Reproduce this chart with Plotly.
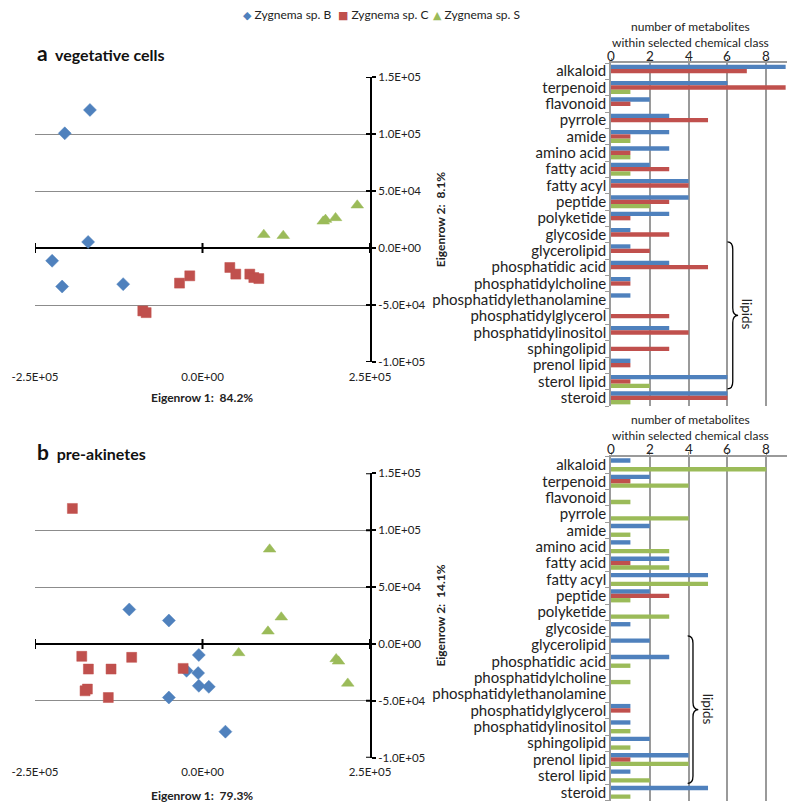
import plotly.graph_objects as go

# ---- data -------------------------------------------------------------
species = ["Zygnema sp. B", "Zygnema sp. C", "Zygnema sp. S"]
colors = ["#4F81BD", "#C0504D", "#9BBB59"]
symbols = ["diamond", "square", "triangle-up"]
legend_glyphs = ["◆", "■", "▲"]

# panel a: vegetative cells (PCA scores)
a_b_x = [-168000, -205600, -170700, -224400, -209500, -118400]
a_b_y = [121100, 100600, 5300, -11200, -33800, -31700]
a_c_x = [-34300, -19000, -89100, -84100, 40800, 49700, 70600, 76600, 84100]
a_c_y = [-30800, -24400, -55200, -56700, -17100, -22900, -22900, -25900, -26800]
a_s_x = [91500, 120500, 180200, 183600, 198600, 231000]
a_s_y = [11700, 10800, 23400, 24900, 26400, 37500]

# panel b: pre-akinetes (PCA scores)
b_b_x = [-109300, -50200, -5500, -23800, -6500, -5500, 9400, -50200, 34200]
b_b_y = [30300, 20600, -9700, -23600, -25600, -36800, -37700, -47100, -77100]
b_c_x = [-194200, -180200, -105700, -170300, -136500, -28900, -175300, -171800, -140600]
b_c_y = [119100, -10900, -11800, -22100, -22100, -21500, -41200, -39700, -47100]
b_s_x = [100200, 117600, 97700, 54000, 199500, 203000, 216800]
b_s_y = [83200, 23500, 11100, -7900, -13200, -15300, -34700]

classes = ["alkaloid", "terpenoid", "flavonoid", "pyrrole", "amide", "amino acid",
           "fatty acid", "fatty acyl", "peptide", "polyketide", "glycoside",
           "glycerolipid", "phosphatidic acid", "phosphatidylcholine",
           "phosphatidylethanolamine", "phosphatidylglycerol", "phosphatidylinositol",
           "sphingolipid", "prenol lipid", "sterol lipid", "steroid"]

a_cnt_b = [9, 6, 2, 3, 3, 3, 2, 4, 4, 3, 1, 1, 3, 1, 1, 0, 3, 0, 1, 6, 6]
a_cnt_c = [7, 9, 1, 5, 1, 1, 3, 4, 3, 1, 3, 2, 5, 1, 0, 3, 4, 3, 1, 1, 6]
a_cnt_s = [0, 1, 0, 0, 1, 1, 1, 0, 2, 0, 0, 0, 0, 0, 0, 0, 0, 0, 0, 2, 1]

b_cnt_b = [1, 2, 0, 0, 2, 1, 3, 5, 2, 0, 1, 2, 3, 0, 0, 1, 1, 2, 4, 1, 5]
b_cnt_c = [0, 1, 0, 0, 0, 0, 1, 0, 3, 0, 0, 0, 0, 0, 0, 1, 0, 0, 1, 0, 0]
b_cnt_s = [8, 4, 1, 4, 1, 3, 3, 5, 1, 3, 0, 0, 1, 1, 0, 0, 1, 1, 4, 2, 1]

score_ticks = [-250000, 0, 250000]
score_yticks = [-100000, -50000, 0, 50000, 100000, 150000]
count_ticks = [0, 2, 4, 6, 8]

FONT = "Lato"
# the page body has an 8px margin, so the figure is drawn 8px in from the corner
PAD = 8
W, H = 800 - 2 * PAD, 812 - 2 * PAD


def px_x(p):
    return (p - PAD) / W


def px_y(p):
    return 1 - (p - PAD) / H


fig = go.Figure()

# ---- scatter traces ---------------------------------------------------
scatter_sets = [
    ("x", "y", [(a_b_x, a_b_y), (a_c_x, a_c_y), (a_s_x, a_s_y)]),
    ("x3", "y3", [(b_b_x, b_b_y), (b_c_x, b_c_y), (b_s_x, b_s_y)]),
]
sizes = [10, 10, 11]
for xa, ya, sets in scatter_sets:
    for i, (xs, ys) in enumerate(sets):
        fig.add_trace(go.Scatter(
            x=xs, y=ys, mode="markers", name=species[i], showlegend=False,
            xaxis=xa, yaxis=ya,
            marker=dict(symbol=symbols[i], size=sizes[i], color=colors[i],
                        line=dict(width=0.5, color=colors[i])),
        ))

# ---- bar traces -------------------------------------------------------
for xa, ya, counts in [("x2", "y2", [a_cnt_b, a_cnt_c, a_cnt_s]),
                       ("x4", "y4", [b_cnt_b, b_cnt_c, b_cnt_s])]:
    for i, vals in enumerate(counts):
        fig.add_trace(go.Bar(
            x=vals, y=classes, orientation="h", name=species[i], showlegend=False,
            xaxis=xa, yaxis=ya, marker=dict(color=colors[i], line=dict(width=0)),
        ))

# ---- axes -------------------------------------------------------------
sc_xdom = [px_x(35), px_x(370)]
bar_xdom = [px_x(611), px_x(787)]


def score_axes(n_x, n_y, ydom, ytitle):
    fig.layout[f"xaxis{n_x}"] = dict(
        domain=sc_xdom, anchor=f"y{n_y}" if n_y else "y", automargin=False,
        range=[-250000, 250000], tickvals=score_ticks,
        ticktext=[f"{v:.1E}" for v in score_ticks],
        showgrid=False, zeroline=False, showline=False, ticks="",
        ticklabelstandoff=6,
        tickfont=dict(size=11.5, family=FONT, color="#222"),
    )
    fig.layout[f"yaxis{n_y}"] = dict(
        domain=ydom, anchor=f"x{n_x}" if n_x else "x", side="right", automargin=False,
        range=[-100000, 150000], tickvals=score_yticks,
        ticktext=[f"{v:.1E}" for v in score_yticks],
        showgrid=True, gridcolor="#8c8c8c", gridwidth=1.2,
        zeroline=True, zerolinecolor="black", zerolinewidth=2,
        showline=True, linecolor="black", linewidth=2, mirror=False,
        ticks="outside", ticklen=4, tickwidth=2, tickcolor="black",
        tickfont=dict(size=11.5, family=FONT, color="#222"),
        title=dict(text=f"<b>{ytitle}</b>", font=dict(size=12, family=FONT, color="#222"),
                   standoff=12),
    )


score_axes("", "", [px_y(362), px_y(77)], "Eigenrow 2:  8.1%")
score_axes("3", "3", [px_y(757.7), px_y(473.3)], "Eigenrow 2:  14.1%")


def bar_axes(n, ydom):
    fig.layout[f"xaxis{n}"] = dict(
        domain=bar_xdom, anchor=f"y{n}", side="top", range=[0, 9.07],
        tickmode="array", tickvals=count_ticks, automargin=False, showticklabels=False,
        showgrid=True, gridcolor="#9a9a9a", gridwidth=1.5, zeroline=False,
        showline=True, linecolor="#9a9a9a", linewidth=1.5,
        ticks="outside", ticklen=3, tickcolor="#9a9a9a",
    )
    fig.layout[f"yaxis{n}"] = dict(
        domain=ydom, anchor=f"x{n}", autorange="reversed", type="category",
        tickmode="array", tickvals=classes, ticktext=classes, automargin=False,
        showgrid=False, zeroline=False, showline=True, linecolor="#9a9a9a", linewidth=1.5,
        ticks="outside", ticklen=4, tickcolor="#9a9a9a", tickson="boundaries",
        tickfont=dict(size=15, family=FONT, color="#222"),
    )


bar_axes(2, [px_y(406), px_y(63)])
bar_axes(4, [px_y(800.5), px_y(456.7)])

# ---- tick marks crossing the score axes -------------------------------
shapes = []
for xr, yr in [("x", "y"), ("x3", "y3")]:
    for v in score_ticks:
        shapes.append(dict(type="line", xref=xr, yref=yr, x0=v, x1=v,
                           ysizemode="pixel", yanchor=0, y0=-5, y1=5,
                           line=dict(color="black", width=2)))
    for v in score_yticks:
        shapes.append(dict(type="line", xref=xr, yref=yr, y0=v, y1=v,
                           xsizemode="pixel", xanchor=250000, x0=-4, x1=0,
                           line=dict(color="black", width=2)))


# ---- braces for lipids ------------------------------------------------
def brace(xr, yr, x0, w, ya, yb):
    xm = x0 + w / 2
    ym = (ya + yb) / 2
    d = 0.45
    path = (f"M {x0},{ya} Q {xm},{ya} {xm},{ya + d} L {xm},{ym - d} "
            f"Q {xm},{ym} {x0 + w},{ym} Q {xm},{ym} {xm},{ym + d} "
            f"L {xm},{yb - d} Q {xm},{yb} {x0},{yb}")
    return dict(type="path", xref=xr, yref=yr, path=path,
                line=dict(color="black", width=1.3))


first_lipid = classes.index("glycerolipid") - 0.55
last_lipid = classes.index("sterol lipid") + 0.45
shapes.append(brace("x2", "y2", 6.0, 0.55, first_lipid, last_lipid))
shapes.append(brace("x4", "y4", 3.95, 0.55, first_lipid, last_lipid))


def paper_text(text, x, y, size, xanchor="center", color="#222", bold=False):
    if bold:
        text = f"<b>{text}</b>"
    return dict(text=text, xref="paper", yref="paper", x=px_x(x), y=px_y(y),
                xanchor=xanchor, yanchor="middle", showarrow=False, borderpad=0,
                font=dict(size=size, family=FONT, color=color))


count_title = "number of metabolites<br>within selected chemical class"
annotations = [
    paper_text("<span style='font-size:21px'>a</span>  vegetative cells", 36, 52, 16,
               xanchor="left", color="#111", bold=True),
    paper_text("<span style='font-size:21px'>b</span>  pre-akinetes", 36, 451, 16,
               xanchor="left", color="#111", bold=True),
    paper_text("Eigenrow 1:  84.2%", 202, 398, 12, bold=True),
    paper_text("Eigenrow 1:  79.3%", 202, 795, 12, bold=True),
    paper_text(count_title, 690, 34.5, 12),
    paper_text(count_title, 690, 427.5, 12),
    dict(text="lipids", xref="x2", yref="y2", x=7.05, y=14.9, textangle=90,
         showarrow=False, font=dict(size=13.5, family=FONT, color="#222")),
    dict(text="lipids", xref="x4", yref="y4", x=5.0, y=14.9, textangle=90,
         showarrow=False, font=dict(size=13.5, family=FONT, color="#222")),
]

# count tick labels placed just above the top axis line
for xr, ty in [("x2", 56), ("x4", 448.5)]:
    for v in count_ticks:
        annotations.append(dict(text=str(v), xref=xr, yref="paper", x=v, y=px_y(ty),
                                xanchor="center", yanchor="middle", showarrow=False,
                                borderpad=0,
                                font=dict(size=13.5, family=FONT, color="#222")))

# legend row built from text so that item spacing matches the original
legend_x = [242, 337, 432]
for i, name in enumerate(species):
    annotations.append(paper_text(
        f"<span style='color:{colors[i]};font-family:DejaVu Sans;font-size:11px'>"
        f"{legend_glyphs[i]}</span> {name}", legend_x[i], 15, 12, xanchor="left"))

fig.update_layout(
    width=W, height=H, margin=dict(l=0, r=0, t=0, b=0),
    paper_bgcolor="white", plot_bgcolor="white",
    barmode="group", bargap=0.2, bargroupgap=0,
    shapes=shapes, annotations=annotations, showlegend=False,
    font=dict(family=FONT),
)

fig.write_html("out.html")
